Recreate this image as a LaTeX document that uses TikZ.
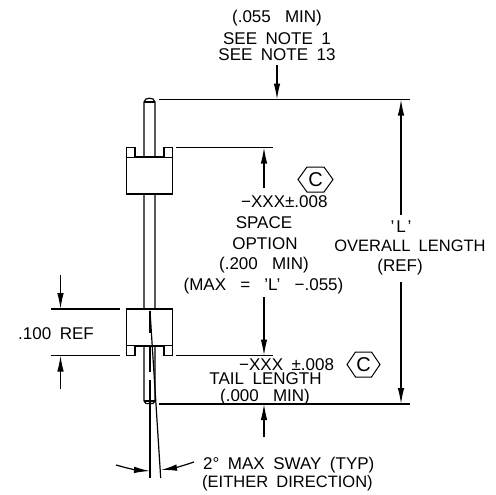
\documentclass[tikz,border=0pt]{standalone}
\usepackage{fontspec}
\setmainfont[WordSpace=1.8]{Liberation Sans}
\usetikzlibrary{arrows.meta}
\tikzset{
  part/.style={line width=1.2pt,draw=black},
  dim/.style={line width=1.2pt,draw=black},
  dimarrow/.style={line width=1.2pt,draw=black,-{Latex[length=16pt,width=6.5pt]}},
  lbl/.style={inner sep=0pt,font=\fontsize{17}{17}\selectfont,align=center,text=black,text height=12.2pt,text depth=0pt},
  hexa/.style={draw=black,line width=1pt},
  hexc/.style={inner sep=0pt,font=\fontsize{20}{20}\selectfont,text=black},
}
\begin{document}
\begin{tikzpicture}[x=1pt,y=-1pt]
\useasboundingbox (0,0) rectangle (495,495);
\fill[white] (0,0) rectangle (495,495);
% pin
\draw[part] (144,401) -- (144,102) -- (146,99) .. controls (148,98) and (151,98) .. (153,99) -- (155,102) -- (155,401);
\draw[part] (144,102) -- (155,102);
\draw[part] (144,401) -- (155,401);
\draw[part] (144,401) -- (146,403.5) -- (153,403.5) -- (155,401);
% bodies
\draw[part,fill=white] (126.5,157) rectangle (172.5,194);
\draw[part,fill=white] (126.5,157) -- (126.5,147.5) -- (135,147.5) -- (135,157);
\draw[part,fill=white] (164,157) -- (164,147.5) -- (172.5,147.5) -- (172.5,157);
\draw[part,fill=white] (126.5,309) rectangle (172.5,346);
\draw[part,fill=white] (126.5,346) -- (126.5,355.5) -- (135,355.5) -- (135,346);
\draw[part,fill=white] (164,346) -- (164,355.5) -- (172.5,355.5) -- (172.5,346);
% named anchors
\coordinate (topL) at (158.5,99.5); \coordinate (topR) at (410,99.5);
\coordinate (upL) at (176,147.5); \coordinate (upR) at (273,147.5);
\coordinate (lowL) at (176,355.5); \coordinate (lowR) at (273,355.5);
\coordinate (botL) at (159,404); \coordinate (botR) at (410,404);
\coordinate (refa) at (51,309); \coordinate (refb) at (120,309);
\coordinate (refc) at (51,355.5); \coordinate (refd) at (120,355.5);
\draw[dim] (topL)--(topR);
\draw[dim] (upL)--(upR);
\draw[dim] (lowL)--(lowR);
\draw[dim] (botL)--(botR);
\draw[dim] (refa)--(refb);
\draw[dim] (refc)--(refd);
% arrows
\coordinate (a1) at (277,65); \coordinate (a1e) at (277,99.5);
\draw[dimarrow] (a1)--(a1e);
\coordinate (a2) at (264,188); \coordinate (a2e) at (264,147.5);
\draw[dimarrow] (a2)--(a2e);
\coordinate (a3) at (264,297); \coordinate (a3e) at (264,355.5);
\draw[dimarrow] (a3)--(a3e);
\coordinate (a4) at (264,437); \coordinate (a4e) at (264,404);
\draw[dimarrow] (a4)--(a4e);
\coordinate (a5) at (401,215); \coordinate (a5e) at (401,99.5);
\draw[dimarrow] (a5)--(a5e);
\coordinate (a6) at (401,282); \coordinate (a6e) at (401,404);
\draw[dimarrow] (a6)--(a6e);
\coordinate (a7) at (60.5,275); \coordinate (a7e) at (60.5,309);
\draw[dimarrow] (a7)--(a7e);
\coordinate (a8) at (60.5,389); \coordinate (a8e) at (60.5,355.5);
\draw[dimarrow] (a8)--(a8e);
% sway
\coordinate (s1) at (150,311); \coordinate (s2) at (150,333); \coordinate (s3) at (150,478);
\coordinate (s4) at (150,347);\coordinate (s5) at (150,372);\coordinate (s6) at (150,380);
\draw[dim] (s1)--(s2);
\draw[dim] (s4)--(s5);
\draw[dim] (s6)--(s3);
\coordinate (t1) at (150,311); \coordinate (t2) at (160.7,478);
\draw[dim] (t1)--(t2);
\coordinate (b1) at (116,465); \coordinate (b2) at (150,471);
\coordinate (c1) at (194,462); \coordinate (c2) at (161,470);
\draw[dimarrow] (b1) to[bend right=6] (b2);
\draw[dimarrow] (c1) to[bend left=5] (c2);
% labels
\node[lbl] (n1) at (277,16) {(.055 \,\,MIN)};
\node[lbl] (n2) at (277,38) {SEE NOTE 1};
\node[lbl] (n3) at (277,54) {SEE NOTE 13};
\draw[hexa] (298,179.5) -- (307,167) -- (324,167) -- (333,179.5) -- (324,192) -- (307,192) -- cycle;
\node[hexc] (h1) at (315.5,179.5) {C};
\node[lbl,anchor=west] (n4) at (241,201.5) {−XXX±.008};
\node[lbl] (n5) at (264,222) {SPACE};
\node[lbl] (n6) at (265,243) {OPTION};
\node[lbl] (n7) at (264,263) {(.200 \,\,MIN)};
\node[lbl] (n8) at (263.5,284) {(MAX \,\,= \,\,'L' \,\,−.055)};
\node[lbl] (n9) at (401,226) {'\kern2pt L\kern2pt '};
\node[lbl,font=\fontsize{16.5}{16.5}\selectfont] (n10) at (410,245) {OVERALL LENGTH};
\node[lbl] (n11) at (400,265) {(REF)};
\node[lbl,anchor=east] (n12) at (94,333) {.100 REF};
\node[lbl,anchor=west] (n13) at (239,364) {−XXX ±.008};
\draw[hexa] (347,364.5) -- (355.5,352) -- (371.5,352) -- (380,364.5) -- (371.5,377) -- (355.5,377) -- cycle;
\node[hexc] (h2) at (363.5,364.5) {C};
\node[lbl] (n14) at (265.5,378.5) {TAIL LENGTH};
\node[lbl] (n15) at (265,395) {(.000 \,\,MIN)};
\node[lbl,anchor=west] (n16) at (203,463) {2° MAX SWAY (TYP)};
\node[lbl,anchor=west,font=\fontsize{16.5}{16.5}\selectfont] (n17) at (202,481) {(EITHER DIRECTION)};
\end{tikzpicture}
\end{document}
